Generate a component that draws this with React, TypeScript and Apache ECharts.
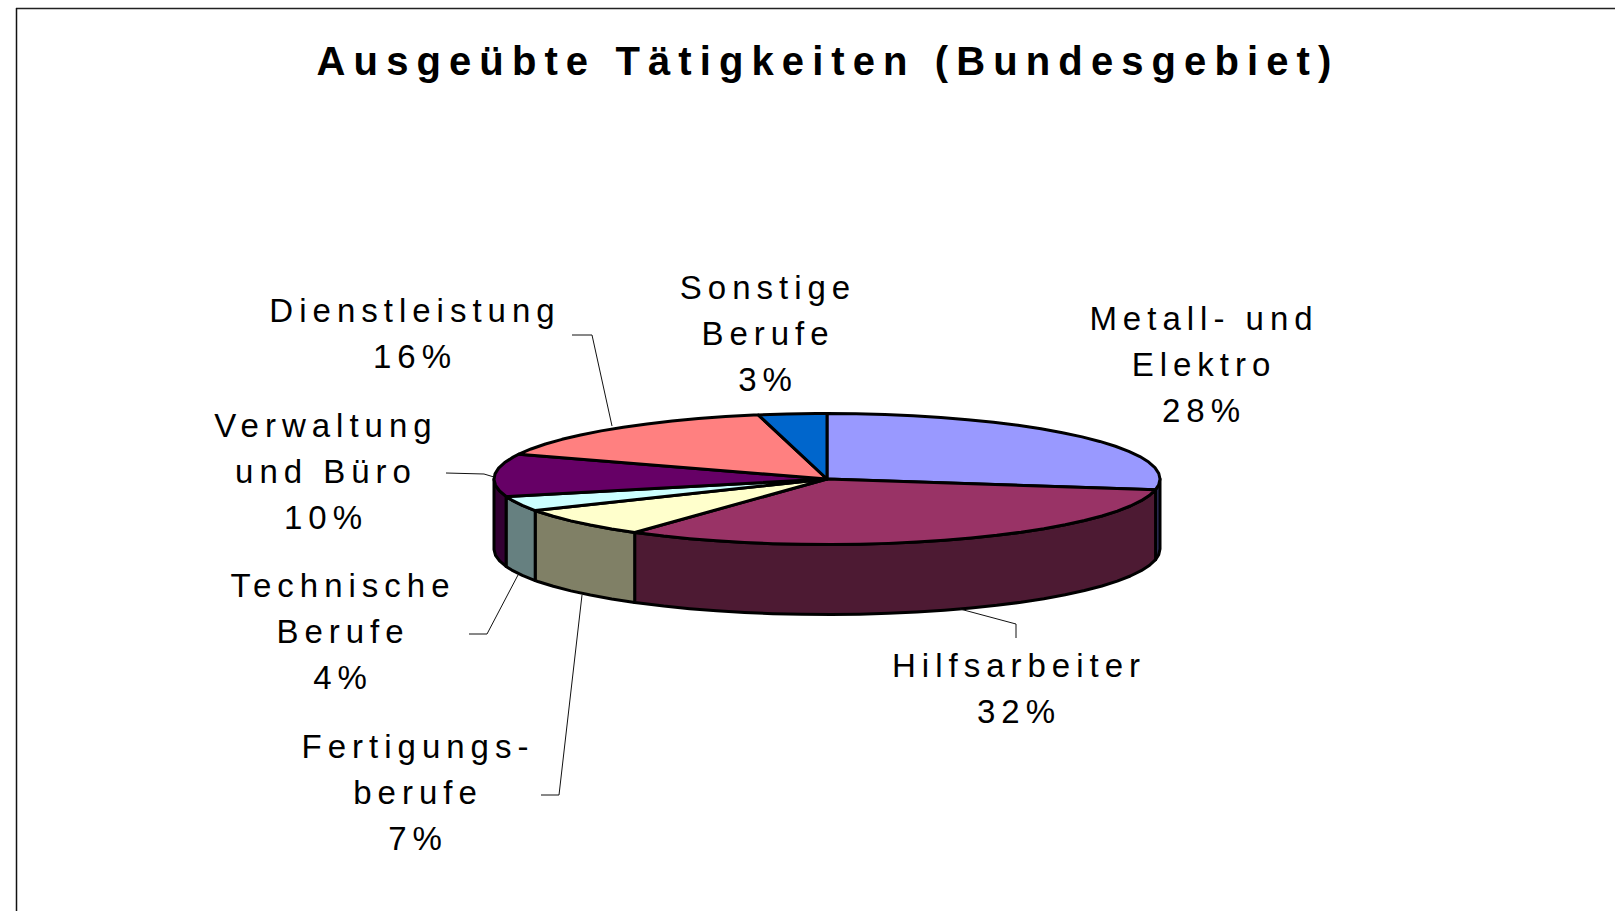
import React, { useEffect, useRef } from "react";
import * as echarts from "echarts";

const titleText = "Ausgeübte Tätigkeiten (Bundesgebiet)";
const categories = [
  "Metall- und\nElektro",
  "Hilfsarbeiter",
  "Fertigungs-\nberufe",
  "Technische\nBerufe",
  "Verwaltung\nund Büro",
  "Dienstleistung",
  "Sonstige\nBerufe",
];
const shares = [27.6, 32.2, 7.2, 3.7, 10.49, 15.5, 3.31];
const topColors = ["#9999FF", "#993366", "#FFFFCC", "#CCFFFF", "#660066", "#FF8080", "#0066CC"];
const sideColors = ["#2E2E5C", "#4D1A33", "#808066", "#668080", "#330033", "#804040", "#003366"];

const labelCentres: number[][] = [
  [1204, 364], [1019, 688], [418, 792], [343, 631], [326, 471], [415, 333], [768, 333],
];
const leaderLines: number[][][] = [
  [],
  [[960, 609], [1016, 624], [1016, 638]],
  [[541, 795], [559, 795], [582, 595]],
  [[469, 634], [487, 634], [518, 575]],
  [[446, 473], [484, 474], [494, 477]],
  [[572, 335], [592, 335], [612, 426]],
  [],
];

const CX = 827;
const CY = 479;
const RX = 333;
const RY = 65.5;
const DEPTH = 70;
const STEP = 5;
const total = shares.reduce((a, b) => a + b, 0);

const pointAt = (deg: number, dy = 0): number[] => {
  const r = (deg * Math.PI) / 180;
  return [CX + RX * Math.sin(r), CY - RY * Math.cos(r) + dy];
};
const arc = (a: number, b: number, dy = 0): number[][] => {
  const pts: number[][] = [];
  for (let d = a; d < b; d += STEP) pts.push(pointAt(d, dy));
  pts.push(pointAt(b, dy));
  return pts;
};

const renderItem = (params: any, api: any) => {
  const i = params.dataIndex;
  const before = shares.slice(0, i).reduce((a, b) => a + b, 0);
  const value = api.value(0);
  const a0 = (before / total) * 360;
  const a1 = ((before + value) / total) * 360;
  const children: any[] = [];
  const stroke = { stroke: "#000", lineWidth: 3, lineJoin: "round" };
  const s0 = Math.max(a0, 90);
  const s1 = Math.min(a1, 270);
  if (s1 > s0) {
    const upper = arc(s0, s1);
    const lower = arc(s0, s1, DEPTH).reverse();
    children.push({
      type: "polygon",
      shape: { points: upper.concat(lower) },
      style: { fill: sideColors[i], ...stroke },
    });
  }
  children.push({
    type: "polygon",
    shape: { points: [[CX, CY], ...arc(a0, a1)] },
    style: { fill: topColors[i], ...stroke },
  });
  if (leaderLines[i].length) {
    children.push({
      type: "polyline",
      z2: 5,
      shape: { points: leaderLines[i] },
      style: { stroke: "#111", lineWidth: 1, fill: "none" },
    });
  }
  children.push({
    type: "text",
    x: labelCentres[i][0],
    y: labelCentres[i][1],
    z2: 10,
    style: {
      text: `${categories[i]}\n${Math.round(value)}%`,
      fill: "#000",
      font: "33px 'Liberation Sans', Arial, sans-serif",
      lineHeight: 46,
      align: "center",
      verticalAlign: "middle",
    },
  });
  return { type: "group", children };
};

export default function App() {
  const ref = useRef<HTMLDivElement>(null);
  useEffect(() => {
    document.body.style.margin = "0";
    document.body.style.overflow = "hidden";
    const chart = echarts.init(ref.current!, undefined, { renderer: "svg" });
    chart.setOption({
      animation: false,
      backgroundColor: "#fff",
      title: {
        text: titleText,
        left: 823,
        top: 36,
        textAlign: "center",
        textStyle: {
          fontFamily: "'Liberation Sans', Arial, sans-serif",
          fontWeight: "bold",
          fontSize: 40,
          color: "#000",
        },
      },
      graphic: [
        { type: "line", shape: { x1: 16, y1: 8.5, x2: 1615, y2: 8.5 }, style: { stroke: "#222", lineWidth: 1.5 } },
        { type: "line", shape: { x1: 16.5, y1: 8, x2: 16.5, y2: 911 }, style: { stroke: "#111", lineWidth: 1.5 } },
      ],
      series: [
        {
          type: "custom",
          coordinateSystem: "none",
          renderItem,
          clip: false,
          data: shares.map((v) => [v]),
        },
      ],
    });
    return () => chart.dispose();
  }, []);
  return (
    <>
      <style>{`
        #chart-box svg text { letter-spacing: 6px; }
        #chart-box svg text[style*="bold"] { letter-spacing: 8.1px; }
      `}</style>
      <div id="chart-box" ref={ref} style={{ width: 1615, height: 911 }} />
    </>
  );
}
